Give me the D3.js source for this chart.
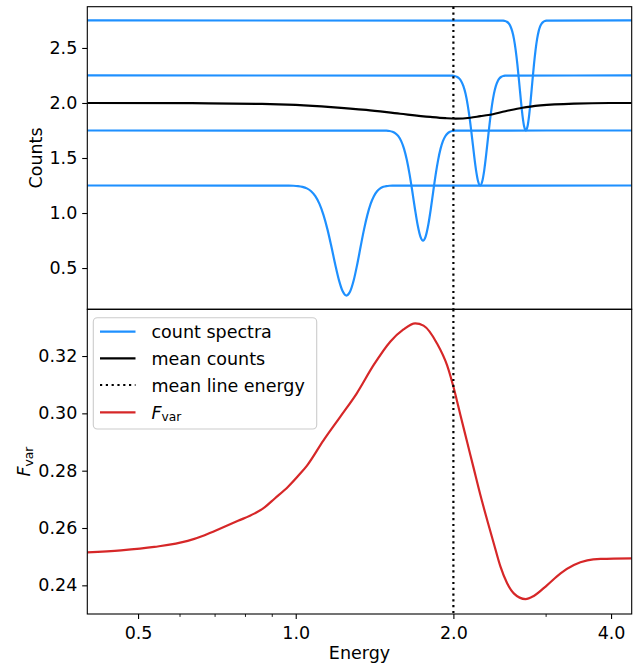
<!DOCTYPE html>
<html><head><meta charset="utf-8">
<script src="https://cdn.jsdelivr.net/npm/d3@7"></script>
<style>
body{margin:0;background:#fff}
text{font-family:"DejaVu Sans",sans-serif;fill:#000}
</style>
</head><body>
<svg id="c" width="644" height="666"></svg>
<script>
// ---------------- data ----------------
const lineEnergies = [1.25, 1.75, 2.25, 2.75];
const meanLineEnergy = 2.0;

const spec1E = [0.40, 0.97,0.99,1.01,1.03,1.05,1.07,1.09,1.11,1.13,1.15,1.17,1.19,1.21,1.23,1.25,1.27,1.29,1.31,1.33,1.35,1.37,1.39,1.41,1.43,1.45,1.47,1.49,1.51,1.53, 4.38];
const spec1C = [1.25, 1.249,1.248,1.245,1.238,1.224,1.198,1.153,1.083,0.981,0.849,0.693,0.530,0.386,0.286,0.250,0.286,0.386,0.530,0.693,0.849,0.981,1.083,1.153,1.198,1.224,1.238,1.245,1.248,1.249, 1.25];

const spec2E = [0.40, 1.47,1.49,1.51,1.53,1.55,1.57,1.59,1.61,1.63,1.65,1.67,1.69,1.71,1.73,1.75,1.77,1.79,1.81,1.83,1.85,1.87,1.89,1.91,1.93,1.95,1.97,1.99,2.01,2.03, 4.38];
const spec2C = [1.75, 1.749,1.748,1.745,1.738,1.724,1.698,1.653,1.583,1.481,1.349,1.193,1.030,0.886,0.786,0.750,0.786,0.886,1.030,1.193,1.349,1.481,1.583,1.653,1.698,1.724,1.738,1.745,1.748,1.749, 1.75];

const spec3E = [0.40, 1.97,1.99,2.01,2.03,2.05,2.07,2.09,2.11,2.13,2.15,2.17,2.19,2.21,2.23,2.25,2.27,2.29,2.31,2.33,2.35,2.37,2.39,2.41,2.43,2.45,2.47,2.49,2.51,2.53, 4.38];
const spec3C = [2.25, 2.249,2.248,2.245,2.238,2.224,2.198,2.153,2.083,1.981,1.849,1.693,1.530,1.386,1.286,1.250,1.286,1.386,1.530,1.693,1.849,1.981,2.083,2.153,2.198,2.224,2.238,2.245,2.248,2.249, 2.25];

const spec4E = [0.40, 2.47,2.49,2.51,2.53,2.55,2.57,2.59,2.61,2.63,2.65,2.67,2.69,2.71,2.73,2.75,2.77,2.79,2.81,2.83,2.85,2.87,2.89,2.91,2.93,2.95,2.97,2.99,3.01,3.03, 4.38];
const spec4C = [2.75, 2.749,2.748,2.745,2.738,2.724,2.698,2.653,2.583,2.481,2.349,2.193,2.030,1.886,1.786,1.750,1.786,1.886,2.030,2.193,2.349,2.481,2.583,2.653,2.698,2.724,2.738,2.745,2.748,2.749, 2.75];

const meanE = [0.40, 0.634, 0.862, 1.00, 1.168, 1.363, 1.583, 1.807, 1.93, 2.02, 2.155, 2.252, 2.333, 2.514, 2.710, 2.933, 3.407, 3.976, 4.38];
const meanC = [2.000, 1.998, 1.992, 1.982, 1.963, 1.937, 1.902, 1.873, 1.862, 1.858, 1.866, 1.880, 1.891, 1.925, 1.957, 1.978, 1.995, 2.000, 2.000];

const fvarE = [0.40, 0.464, 0.537, 0.622, 0.670, 0.720, 0.776, 0.835, 0.872, 0.912, 0.967, 1.019, 1.050, 1.129, 1.216, 1.308, 1.408, 1.515, 1.606, 1.691, 1.754, 1.861, 1.945, 2.002, 2.062, 2.124, 2.187, 2.252, 2.320, 2.388, 2.460, 2.533, 2.608, 2.746, 2.848, 3.021, 3.204, 3.397, 3.603, 3.821, 4.38];
const fvarV = [0.2515, 0.2522, 0.2534, 0.2555, 0.2575, 0.2599, 0.2625, 0.2651, 0.2672, 0.2703, 0.2744, 0.2789, 0.2817, 0.2905, 0.2988, 0.3070, 0.3168, 0.3250, 0.3293, 0.3314, 0.3306, 0.3244, 0.3168, 0.3090, 0.2995, 0.2901, 0.2808, 0.2715, 0.2628, 0.2547, 0.2465, 0.2407, 0.2372, 0.2352, 0.2363, 0.2401, 0.2442, 0.2471, 0.2487, 0.2492, 0.2494];

const xTicks = [0.5, 1.0, 2.0, 4.0];
const xMinorTicks = [0.6, 0.7, 0.8, 0.9, 3.0];
const topYTicks = [0.5, 1.0, 1.5, 2.0, 2.5];
const botYTicks = [0.24, 0.26, 0.28, 0.30, 0.32];
const legendLabels = ["count spectra", "mean counts", "mean line energy", "F_var"];

// ---------------- layout ----------------
const L = 87.3, R = 631.7, T1 = 6.7, B1 = 309.3, T2 = 309.3, B2 = 614;
const FS = 17.5;
const BLUE = "#1e90ff", RED = "#d62728";

const svg = d3.select("#c");
const x = d3.scaleLog().domain([0.4, 4.38]).range([L, R]);
const yTop = d3.scaleLinear().domain([0.125, 2.875]).range([B1, T1]);
const yBot = d3.scaleLinear().domain([0.2300, 0.3363]).range([B2, T2]);

const defs = svg.append("defs");
defs.append("clipPath").attr("id","clipTop").append("rect").attr("x",L).attr("y",T1).attr("width",R-L).attr("height",B1-T1);
defs.append("clipPath").attr("id","clipBot").append("rect").attr("x",L).attr("y",T2).attr("width",R-L).attr("height",B2-T2);

function zip(E, V){ return E.map((e,i)=>({e, v:V[i]})); }

// ---------- top panel ----------
const gTop = svg.append("g").attr("clip-path","url(#clipTop)");
const lineTop = d3.line().x(d=>x(d.e)).y(d=>yTop(d.v)).curve(d3.curveMonotoneX);
[[spec1E,spec1C],[spec2E,spec2C],[spec3E,spec3C],[spec4E,spec4C]].forEach(([E,C])=>{
  gTop.append("path").attr("d", lineTop(zip(E,C))).attr("fill","none")
    .attr("stroke", BLUE).attr("stroke-width", 2.2);
});
gTop.append("path").attr("d", lineTop(zip(meanE, meanC))).attr("fill","none")
  .attr("stroke","#000").attr("stroke-width",2.2);

// ---------- bottom panel ----------
const gBot = svg.append("g").attr("clip-path","url(#clipBot)");
const lineBot = d3.line().x(d=>x(d.e)).y(d=>yBot(d.v)).curve(d3.curveMonotoneX);
gBot.append("path").attr("d", lineBot(zip(fvarE, fvarV))).attr("fill","none")
  .attr("stroke", RED).attr("stroke-width", 2.2);

// dotted mean line energy in both panels
[[T1,B1],[T2,B2]].forEach(([a,b])=>{
  svg.append("line").attr("x1",x(meanLineEnergy)).attr("x2",x(meanLineEnergy))
    .attr("y1",a).attr("y2",b).attr("stroke","#000").attr("stroke-width",2.2)
    .attr("stroke-dasharray","2.2,3.6");
});

// ---------- axes ----------
function styleAxis(g){
  g.select(".domain").remove();
  g.selectAll(".tick line").attr("stroke","#000").attr("stroke-width",1.1);
  g.selectAll(".tick text").style("font-size", FS+"px").style("font-family","DejaVu Sans, sans-serif");
}
const xAxis = svg.append("g").attr("transform",`translate(0,${B2})`)
  .call(d3.axisBottom(x).tickValues(xTicks).tickFormat(d3.format(".1f")).tickSize(5.1).tickPadding(7.5));
styleAxis(xAxis);
const xMinor = svg.append("g").attr("transform",`translate(0,${B2})`)
  .call(d3.axisBottom(x).tickValues(xMinorTicks).tickFormat("").tickSize(2.9));
xMinor.select(".domain").remove();
xMinor.selectAll(".tick line").attr("stroke","#000").attr("stroke-width",0.9);

const yAxTop = svg.append("g").attr("transform",`translate(${L},0)`)
  .call(d3.axisLeft(yTop).tickValues(topYTicks).tickFormat(d3.format(".1f")).tickSize(5.1).tickPadding(4.9));
styleAxis(yAxTop);
const yAxBot = svg.append("g").attr("transform",`translate(${L},0)`)
  .call(d3.axisLeft(yBot).tickValues(botYTicks).tickFormat(d3.format(".2f")).tickSize(5.1).tickPadding(4.9));
styleAxis(yAxBot);

// spines
[[T1,B1],[T2,B2]].forEach(([a,b])=>{
  svg.append("rect").attr("x",L).attr("y",a).attr("width",R-L).attr("height",b-a)
    .attr("fill","none").attr("stroke","#000").attr("stroke-width",1.1);
});

// axis labels
svg.append("text").attr("transform",`translate(${(L+R)/2},658.5)`).attr("text-anchor","middle")
  .style("font-size",FS+"px").text("Energy");
svg.append("text").attr("transform",`translate(41.5,${(T1+B1)/2}) rotate(-90)`).attr("text-anchor","middle")
  .style("font-size",FS+"px").text("Counts");
const fl = svg.append("text").attr("transform",`translate(29.5,${(T2+B2)/2}) rotate(-90)`).attr("text-anchor","middle")
  .style("font-size",FS+"px");
fl.append("tspan").style("font-style","italic").text("F");
fl.append("tspan").attr("dy","3").style("font-size",(FS*0.7)+"px").text("var");

// ---------- legend ----------
const lg = svg.append("g");
lg.append("rect").attr("x",93.3).attr("y",317.7).attr("width",223.4).attr("height",111.3)
  .attr("rx",4).attr("fill","#fff").attr("fill-opacity",0.8).attr("stroke","#cccccc").attr("stroke-width",1.1);
const rowsY = [331.7, 358.3, 385.0, 412.3];
const styles = [
  {c:BLUE, dash:null},
  {c:"#000", dash:null},
  {c:"#000", dash:"2.2,3.6"},
  {c:RED, dash:null}
];
legendLabels.forEach((lab,i)=>{
  const yy = rowsY[i];
  const ln = lg.append("line").attr("x1",100).attr("x2",135.5).attr("y1",yy).attr("y2",yy)
    .attr("stroke",styles[i].c).attr("stroke-width",2.2);
  if(styles[i].dash) ln.attr("stroke-dasharray",styles[i].dash);
  const t = lg.append("text").attr("x",151.5).attr("y",yy+6.5).style("font-size",FS+"px");
  if(lab === "F_var"){
    t.append("tspan").style("font-style","italic").text("F");
    t.append("tspan").attr("dy","2").style("font-size",(FS*0.7)+"px").text("var");
  } else t.text(lab);
});
</script>
</body></html>
